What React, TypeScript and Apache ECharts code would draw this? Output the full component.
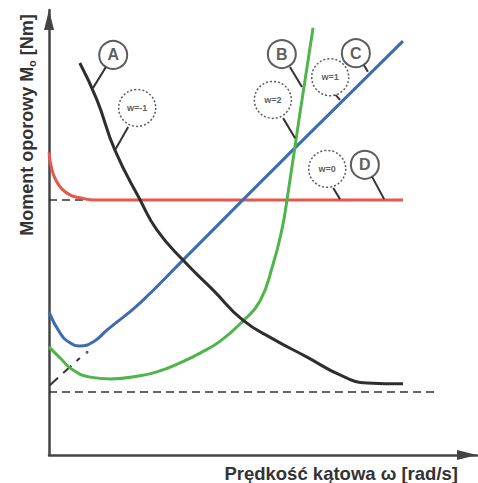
import React, { useEffect, useRef } from "react";
import * as echarts from "echarts";

// Qualitative curves (arbitrary units, 0..100 on both axes)
const dX = [0, 0.7, 1.6, 3, 5, 7.2, 10.7, 82.7];
const dY = [68, 64, 61.8, 59.8, 58.4, 57.8, 57.3, 57.3];
const aX = [7.2, 11.2, 15.4, 21.3, 25.2, 31.3, 38.3, 45.3, 52.3, 60.3, 68.0, 74.3, 82.7];
const aY = [88.1, 79.8, 68.5, 57.3, 50.6, 43.8, 37.1, 30.3, 26.1, 22.0, 18.0, 16.2, 16.0];
const cX = [0, 2.6, 4.9, 7.2, 10.3, 13.6, 21.3, 31.3, 56.3, 82.7];
const cY = [32.1, 27.4, 25.2, 24.5, 25.4, 28.1, 34.2, 43.8, 67.9, 93.0];
const bX = [0, 2.6, 5.6, 9.6, 14.3, 21.3, 25.9, 30.6, 35.3, 40.0, 45.3, 49.3, 52.3, 54.4, 55.6, 58.6, 61.7];
const bY = [24.3, 21.8, 19.1, 17.5, 17.1, 17.8, 18.9, 20.7, 22.9, 25.6, 30.1, 34.6, 42.7, 50.6, 57.3, 76.6, 96.0];

// Dashed reference lines
const dashedLines = [
  [[0, 57.3], [9, 57.3]],
  [[0, 14.2], [90.7, 14.2]],
];
const diagonal = [[0.2, 15.7], [7.2, 21.8]];
const dotPoint = [8.9, 23.1];

// Curve labels
const letterNames = ["A", "B", "C", "D"];
const letterPos = [[15.0, 89.9], [54.4, 90.1], [71.7, 90.3], [73.8, 65.2]];
const expNames = ["w=-1", "w=2", "w=1", "w=0"];
const expPos = [[20.6, 78.0], [52.3, 79.8], [65.7, 84.9], [65.0, 64.3]];
const leaders = [
  [[13.3, 87.2], [10.3, 82.5]],
  [[18.5, 73.7], [15.4, 68.5]],
  [[56.3, 87.2], [59.1, 82.7]],
  [[54.7, 75.7], [57.5, 71.2]],
  [[73.6, 87.6], [74.5, 86.1]],
  [[66.8, 81.1], [68.0, 79.8]],
  [[75.5, 62.5], [78.3, 57.5]],
  [[66.4, 60.0], [68.0, 57.5]],
];

const xLabel = "Prędkość kątowa ω [rad/s]";

const zip = (xs: number[], ys: number[]) => xs.map((x, i) => [x, ys[i]]);

export default function App() {
  const ref = useRef<HTMLDivElement>(null);
  useEffect(() => {
    if (!ref.current) return;
    const chart = echarts.init(ref.current, null, { renderer: "svg" });
    const ink = "#333333";
    const font = "Liberation Sans, Arial, sans-serif";
    const curve = (data: number[][], color: string) => ({
      type: "line",
      data,
      smooth: 0.5,
      showSymbol: false,
      silent: true,
      lineStyle: { color, width: 3 },
      z: 3,
    });
    const axisBase = {
      type: "value",
      min: 0,
      max: 100,
      axisLine: {
        show: true,
        lineStyle: { color: "#444", width: 2.5 },
        symbol: ["none", "triangle"],
        symbolSize: [10, 20],
        symbolOffset: [0, -10],
      },
      axisTick: { show: false },
      axisLabel: { show: false },
      splitLine: { show: false },
    };
    chart.setOption({
      animation: false,
      backgroundColor: "#ffffff",
      grid: { left: 49, right: 1, top: 10, bottom: 28 },
      xAxis: axisBase,
      yAxis: axisBase,
      graphic: [
        {
          type: "text",
          right: 20,
          top: 464,
          style: {
            text: xLabel,
            font: `bold 18.5px ${font}`,
            fill: ink,
          },
        },
        {
          type: "text",
          x: 27,
          y: 125,
          rotation: Math.PI / 2,
          style: {
            text: "{a|Moment oporowy M}{s|o}{a| [Nm]}",
            align: "center",
            verticalAlign: "middle",
            rich: {
              a: { fontSize: 18, fontWeight: "bold", fontFamily: font, fill: ink, lineHeight: 21 },
              s: { fontSize: 11, fontWeight: "bold", fontFamily: font, fill: ink, verticalAlign: "bottom", lineHeight: 21 },
            },
          },
        },
      ],
      series: [
        {
          type: "lines",
          coordinateSystem: "cartesian2d",
          silent: true,
          z: 2,
          lineStyle: { color: ink, width: 1.5, type: [8, 5], opacity: 1 },
          data: dashedLines.map((c) => ({ coords: c })),
        },
        {
          type: "lines",
          coordinateSystem: "cartesian2d",
          silent: true,
          z: 2,
          lineStyle: { color: ink, width: 2, type: [11, 7], opacity: 1 },
          data: [{ coords: diagonal }],
        },
        {
          type: "scatter",
          silent: true,
          z: 2,
          symbolSize: 3,
          itemStyle: { color: ink },
          data: [dotPoint],
        },
        curve(zip(dX, dY), "#e8574e"),
        curve(zip(cX, cY), "#3d6cb3"),
        curve(zip(bX, bY), "#4db54a"),
        curve(zip(aX, aY), "#2e2e2e"),
        {
          type: "lines",
          coordinateSystem: "cartesian2d",
          silent: true,
          z: 4,
          lineStyle: { color: ink, width: 2, type: "solid", opacity: 1 },
          data: leaders.map((c) => ({ coords: c })),
        },
        {
          type: "scatter",
          silent: true,
          z: 5,
          symbol: "circle",
          symbolSize: 28,
          itemStyle: { color: "#ffffff", borderColor: ink, borderWidth: 2 },
          label: {
            show: true,
            position: "inside",
            formatter: (p: any) => p.name,
            color: ink,
            fontWeight: "bold",
            fontSize: 16,
            fontFamily: font,
          },
          data: letterPos.map((p, i) => ({ name: letterNames[i], value: p })),
        },
        {
          type: "scatter",
          silent: true,
          z: 5,
          symbol: "circle",
          symbolSize: 37,
          itemStyle: { color: "#ffffff", borderColor: ink, borderWidth: 1.5, borderType: [2, 2] },
          label: {
            show: true,
            position: "inside",
            formatter: (p: any) => p.name,
            color: ink,
            fontWeight: "bold",
            fontSize: 9,
            fontFamily: font,
          },
          data: expPos.map((p, i) => ({ name: expNames[i], value: p })),
        },
      ],
    });
    return () => chart.dispose();
  }, []);
  return <div ref={ref} style={{ width: 478, height: 483, position: "absolute", left: 0, top: 0 }} />;
}
